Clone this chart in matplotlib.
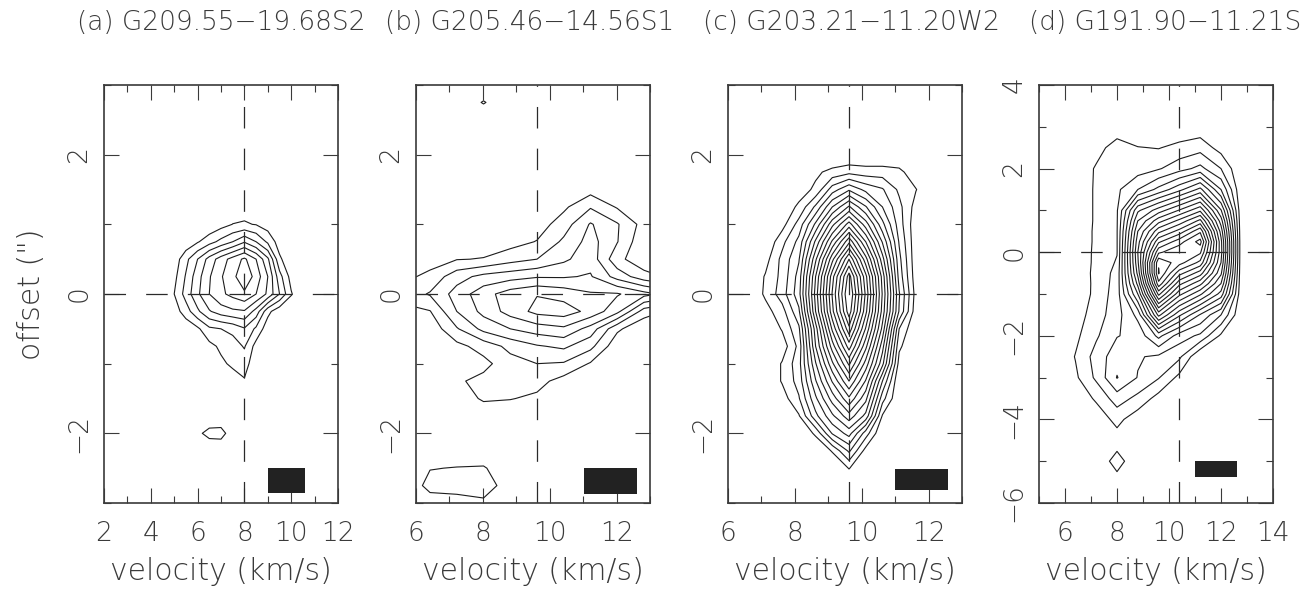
import numpy as np
import matplotlib
matplotlib.use("Agg")
import matplotlib.pyplot as plt
from matplotlib.ticker import MultipleLocator
from matplotlib.patches import Rectangle

# ---------------- data ----------------
titles = ["(a) G209.55\u221219.68S2", "(b) G205.46\u221214.56S1",
          "(c) G203.21\u221211.20W2", "(d) G191.90\u221211.21S"]
vel_limits = [(2, 12), (6, 13), (6, 13), (5, 14)]
off_limits = [(-3, 3), (-3, 3), (-3, 3), (-6, 4)]
v_sys = [8.0, 9.62, 9.62, 10.4]
beam_vel = [(9.0, 10.6), (11.02, 12.62), (10.99, 12.59), (11.0, 12.6)]
beam_off = [(-2.86, -2.5), (-2.87, -2.5), (-2.81, -2.51), (-5.37, -5.0)]
n_levels = [7, 6, 20, 19]

# panel (a): intensity in units of the contour step
vel_a = [4.5, 5.0, 5.5, 6.0, 6.5, 7.0, 7.5, 8.0, 8.5, 9.0, 9.5, 10.0, 10.5]
off_a = [1.5, 1.25, 1.0, 0.75, 0.5, 0.25, 0.0, -0.25, -0.5, -0.75, -1.0,
         -1.25, -1.5, -1.75, -2.0, -2.25]
int_a = [
    [0, 0, 0, 0, 0, 0, 0, 0, 0, 0, 0, 0, 0],
    [0, 0, 0, 0, 0, 0.2, 0.4, 0.6, 0.4, 0.1, 0, 0, 0],
    [0, 0, 0, 0, 0.2, 0.6, 1.02, 1.1, 0.95, 0.5, 0.1, 0, 0],
    [0, 0, 0.3, 0.9, 1.6, 2.3, 3.0, 3.9, 3.0, 1.8, 0.5, 0, 0],
    [0, 0.4, 1.7, 3.0, 4.4, 5.5, 6.4, 7.2, 6.0, 4.2, 1.2, 0.2, 0],
    [0, 0.7, 2.1, 3.6, 4.9, 5.9, 6.7, 7.8, 6.6, 5.0, 2.4, 0.6, 0],
    [0, 1.0, 2.4, 3.8, 5.0, 5.8, 6.3, 6.8, 6.0, 4.8, 3.0, 1.1, 0],
    [0, 0.5, 1.5, 2.8, 3.9, 4.5, 4.8, 4.9, 3.6, 1.3, 0.3, 0, 0],
    [0, 0, 0.3, 0.8, 1.8, 2.0, 2.3, 2.9, 1.8, 0.4, 0, 0, 0],
    [0, 0, 0, 0.2, 0.7, 1.2, 1.5, 2.1, 0.6, 0.1, 0, 0, 0],
    [0, 0, 0, 0, 0.3, 0.8, 1.2, 1.45, 0.3, 0, 0, 0, 0],
    [0, 0, 0, 0, 0, 0.2, 0.5, 0.9, 0.1, 0, 0, 0, 0],
    [0, 0, 0, 0, 0, 0, 0, 0, 0, 0, 0, 0, 0],
    [0, 0, 0, 0, 0.3, 0.6, 0.4, 0, 0, 0, 0, 0, 0],
    [0, 0, 0, 0.8, 1.3, 1.2, 0.7, 0, 0, 0, 0, 0, 0],
    [0, 0, 0, 0, 0.3, 0.6, 0.3, 0, 0, 0, 0, 0, 0],
]

# panel (b)
vel_b = [5.62, 6.42, 7.22, 8.02, 8.82, 9.62, 10.42, 11.22, 12.02, 12.82, 13.62]
off_b = [3.0, 2.75, 2.5, 1.75, 1.5, 1.25, 1.0, 0.75, 0.5, 0.25, 0.0, -0.25,
         -0.5, -0.75, -1.0, -1.25, -1.5, -1.75, -2.25, -2.5, -2.75, -3.0, -3.25]
int_b = [
    [0, 0, 0, 0, 0, 0, 0, 0, 0, 0, 0],
    [0, 0, 0, 1.1, 0, 0, 0, 0, 0, 0, 0],
    [0, 0, 0, 0, 0, 0, 0, 0, 0, 0, 0],
    [0, 0, 0, 0, 0, 0, 0, 0, 0, 0, 0],
    [0, 0, 0, 0, 0, 0, 0.2, 0.6, 0.1, 0, 0],
    [0, 0, 0, 0, 0, 0.2, 0.8, 1.9, 0.9, 0, 0],
    [0, 0, 0, 0.2, 0.2, 0.5, 1.5, 3.1, 2.1, 0.6, 0],
    [0, 0, 0.3, 0.5, 0.6, 1.05, 2.2, 3.4, 2.05, 0.2, 0],
    [0, 0.5, 0.95, 1.05, 1.6, 2.0, 2.8, 3.6, 1.3, 0.3, 0],
    [0.7, 1.3, 2.6, 3.3, 3.6, 3.9, 3.9, 4.1, 2.6, 1.4, 0.8],
    [1.4, 2.1, 3.4, 4.6, 5.5, 5.95, 5.6, 5.1, 5.1, 4.37, 3.6],
    [0.7, 0.95, 3.0, 4.3, 5.4, 6.3, 6.5, 5.7, 4.3, 1.5, 0.8],
    [0, 0.3, 1.9, 3.3, 4.0, 4.5, 4.8, 3.6, 1.2, 0.2, 0],
    [0, 0, 0.7, 1.4, 2.3, 2.9, 3.2, 2.3, 0.3, 0, 0],
    [0, 0, 0.5, 0.7, 1.6, 2.0, 1.9, 0.9, 0, 0, 0],
    [0, 0, 0.85, 1.3, 1.3, 1.35, 0.6, 0.3, 0, 0, 0],
    [0, 0, 0.4, 1.15, 1.05, 0.8, 0.2, 0, 0, 0, 0],
    [0, 0, 0, 0.3, 0.3, 0.3, 0, 0, 0, 0, 0],
    [0, 0.3, 0.3, 0.3, 0.3, 0, 0, 0, 0, 0, 0],
    [0, 0.95, 1.05, 1.1, 0.3, 0, 0, 0, 0, 0, 0],
    [0, 1.4, 1.4, 1.5, 0.5, 0, 0, 0, 0, 0, 0],
    [0, 0.4, 0.6, 0.8, 0, 0, 0, 0, 0, 0, 0],
    [0, 0, 0, 0, 0, 0, 0, 0, 0, 0, 0],
]

# panel (c)
vel_c = [6.62, 7.12, 7.62, 8.12, 8.62, 9.12, 9.62, 10.12, 10.62, 11.12, 11.62, 12.12]
off_c = [2.0, 1.75, 1.5, 1.25, 1.0, 0.75, 0.5, 0.25, 0.0, -0.25, -0.5, -0.75,
         -1.0, -1.25, -1.5, -1.75, -2.0, -2.25, -2.5, -2.75]
int_c = [
    [0, 0, 0, 0, 0, 0, 0, 0, 0, 0, 0, 0],
    [0, 0, 0.1, 0.3, 0.8, 1.3, 1.7, 1.5, 1.5, 1.3, 0.3, 0],
    [0, 0, 0.2, 0.5, 1.2, 3.5, 4.85, 3.7, 3.1, 1.8, 1.05, 0],
    [0, 0, 0.3, 1.2, 3.2, 6.0, 8.15, 6.1, 4.0, 2.3, 0.6, 0],
    [0, 0, 0.6, 2.4, 5.2, 8.7, 11.45, 8.5, 5.3, 2.5, 0.3, 0],
    [0, 0.1, 1.7, 3.3, 7.2, 11.2, 14.75, 11.0, 6.9, 2.9, 0.3, 0],
    [0, 0.6, 2.3, 3.9, 8.8, 13.7, 18.0, 13.4, 8.4, 3.3, 0.3, 0],
    [0, 1.1, 2.3, 4.4, 10.0, 15.6, 20.5, 15.3, 9.6, 3.6, 0.4, 0],
    [0, 1.2, 2.5, 4.6, 10.4, 16.1, 21.2, 15.8, 9.9, 4.1, 0.6, 0],
    [0, 0.6, 1.6, 3.8, 10.0, 15.7, 20.6, 15.3, 9.6, 3.9, 0.4, 0],
    [0, 0, 1.1, 2.8, 8.5, 14.2, 18.7, 13.9, 8.7, 2.0, 0, 0],
    [0, 0, 0.4, 2.3, 8.0, 12.5, 16.5, 12.3, 7.4, 1.2, 0, 0],
    [0, 0, 1.1, 2.6, 6.9, 10.8, 14.2, 10.6, 6.3, 0.6, 0, 0],
    [0, 0, 1.1, 2.4, 5.9, 9.1, 12.0, 8.9, 4.0, 0, 0, 0],
    [0, 0, 0.5, 1.9, 4.8, 7.45, 9.8, 7.3, 2.4, 0, 0, 0],
    [0, 0, 0, 0.9, 3.7, 5.8, 7.6, 5.7, 0.9, 0, 0, 0],
    [0, 0, 0, 0, 1.2, 4.1, 5.4, 2.5, 0, 0, 0, 0],
    [0, 0, 0, 0, 0, 1.1, 3.2, 0.6, 0, 0, 0, 0],
    [0, 0, 0, 0, 0, 0, 1.05, 0, 0, 0, 0, 0],
    [0, 0, 0, 0, 0, 0, 0, 0, 0, 0, 0, 0],
]

# panel (d)
vel_d = [5.6, 6.4, 7.2, 8.0, 8.8, 9.6, 10.4, 11.2, 12.0, 12.8]
off_d = [3.0, 2.5, 2.0, 1.5, 1.0, 0.75, 0.5, 0.25, 0.0, -0.25, -0.5, -0.75,
         -1.0, -1.5, -2.0, -2.5, -3.0, -3.5, -4.0, -4.5, -5.0, -5.5]
int_d = [
    [0, 0, 0, 0.2, 0, 0, 0.2, 0.35, 0, 0],
    [0, 0, 0.5, 1.6, 1.05, 0.95, 1.3, 1.6, 0.6, 0],
    [0, 0, 1.15, 1.5, 1.5, 1.9, 2.6, 3.3, 2.0, 0],
    [0, 0, 1.2, 1.8, 3.0, 4.3, 5.7, 7.3, 4.0, 0],
    [0, 0, 1.2, 1.9, 6.8, 8.5, 10.1, 11.8, 7.1, 0],
    [0, 0, 1.2, 1.92, 8.0, 10.6, 12.3, 14.3, 8.5, 0],
    [0, 0, 1.25, 1.95, 9.0, 12.7, 14.4, 16.8, 9.6, 0],
    [0, 0, 1.25, 1.95, 9.6, 14.8, 16.6, 18.4, 10.3, 0],
    [0, 0, 1.3, 1.95, 10.0, 16.8, 17.8, 17.2, 10.4, 0],
    [0, 0.05, 1.3, 2.1, 9.8, 18.9, 17.4, 15.7, 10.0, 0],
    [0, 0.1, 1.35, 2.3, 9.3, 19.1, 15.4, 13.5, 9.2, 0],
    [0, 0.15, 1.3, 2.4, 8.3, 17.7, 13.3, 11.3, 8.0, 0],
    [0, 0.2, 1.3, 2.5, 7.0, 15.3, 11.3, 9.2, 6.6, 0],
    [0, 0.5, 1.5, 2.6, 4.3, 10.3, 7.2, 4.9, 3.0, 0],
    [0, 0.75, 1.85, 2.95, 3.3, 5.3, 3.5, 2.8, 0.8, 0],
    [0, 1.05, 2.4, 3.6, 3.1, 2.8, 2.2, 0, 0, 0],
    [0, 0.8, 2.2, 4.05, 2.95, 2.07, 0.7, 0, 0, 0],
    [0, 0.3, 1.15, 2.5, 1.7, 0.6, 0, 0, 0, 0],
    [0, 0, 0.4, 1.3, 0.4, 0, 0, 0, 0, 0],
    [0, 0, 0, 0.55, 0, 0, 0, 0, 0, 0],
    [0, 0, 0.3, 1.4, 0.3, 0, 0, 0, 0, 0],
    [0, 0, 0, 0.6, 0, 0, 0, 0, 0, 0],
]

panels = [(vel_a, off_a, int_a), (vel_b, off_b, int_b),
          (vel_c, off_c, int_c), (vel_d, off_d, int_d)]

# ---------------- style ----------------
plt.rcParams['font.family'] = ['DejaVu Sans']
plt.rcParams['font.weight'] = 'light'
plt.rcParams['axes.labelweight'] = 'light'
plt.rcParams['lines.scale_dashes'] = False
plt.rcParams['axes.unicode_minus'] = True

W, H = 1303, 595
fig = plt.figure(figsize=(W / 100, H / 100), dpi=100)

txt_col = '#3a3a3a'
frame_col = '#3a3a3a'
fs = 19
fs_label = 21.5

ax_left_px = [104, 416, 728, 1039]
ax_w_px = 234
ax_top_px, ax_bot_px = 85, 503
title_x_px = [221, 530, 851, 1165]

for i, (vel, off, inten) in enumerate(panels):
    ax = fig.add_axes([ax_left_px[i] / W, (H - ax_bot_px) / H,
                       ax_w_px / W, (ax_bot_px - ax_top_px) / H])
    z = np.array(inten, dtype=float)[::-1]
    y = np.array(off, dtype=float)[::-1]
    x = np.array(vel, dtype=float)
    ax.contour(x, y, z, levels=np.arange(1, n_levels[i] + 1),
               colors='#1c1c1c', linewidths=0.8)
    ax.axhline(0, color='#2a2a2a', lw=0.9, ls=(0, (15.5, 14.5)))
    ax.axvline(v_sys[i], color='#2a2a2a', lw=0.9, ls=(0, (15.5, 14.5)))
    ax.add_patch(Rectangle((beam_vel[i][0], beam_off[i][0]),
                           beam_vel[i][1] - beam_vel[i][0],
                           beam_off[i][1] - beam_off[i][0],
                           facecolor='#222222', edgecolor='none', zorder=3))
    ax.set_xlim(*vel_limits[i])
    ax.set_ylim(*off_limits[i])
    ax.xaxis.set_major_locator(MultipleLocator(2))
    ax.xaxis.set_minor_locator(MultipleLocator(1))
    ax.yaxis.set_major_locator(MultipleLocator(2))
    ax.yaxis.set_minor_locator(MultipleLocator(1))
    ax.tick_params(which='both', direction='in', top=True, right=True,
                   color=frame_col, labelcolor=txt_col, labelsize=fs)
    ax.tick_params(which='major', length=10.8, width=0.8)
    ax.tick_params(which='minor', length=5.2, width=0.8)
    ax.tick_params(axis='x', which='major', pad=13)
    ax.tick_params(axis='y', which='major', pad=9)
    for lab in ax.get_yticklabels():
        lab.set_rotation(90)
        lab.set_va('center')
    for sp in ax.spines.values():
        sp.set_color(frame_col)
        sp.set_linewidth(1.2)
    ax.set_xlabel('velocity (km/s)', fontsize=fs_label, color=txt_col)
    ax.xaxis.set_label_coords(0.5, -(572 - ax_bot_px) / (ax_bot_px - ax_top_px))
    ax.xaxis.label.set_va('center')
    if i == 0:
        ax.set_ylabel('offset (")', fontsize=fs_label, color=txt_col)
        ax.yaxis.set_label_coords(-(104 - 32) / ax_w_px, 0.5)
        ax.yaxis.label.set_va('center')
    fig.text(title_x_px[i] / W, 1 - 22 / H, titles[i], ha='center',
             va='center', fontsize=fs, color=txt_col)

fig.savefig('out.png', dpi=100)
